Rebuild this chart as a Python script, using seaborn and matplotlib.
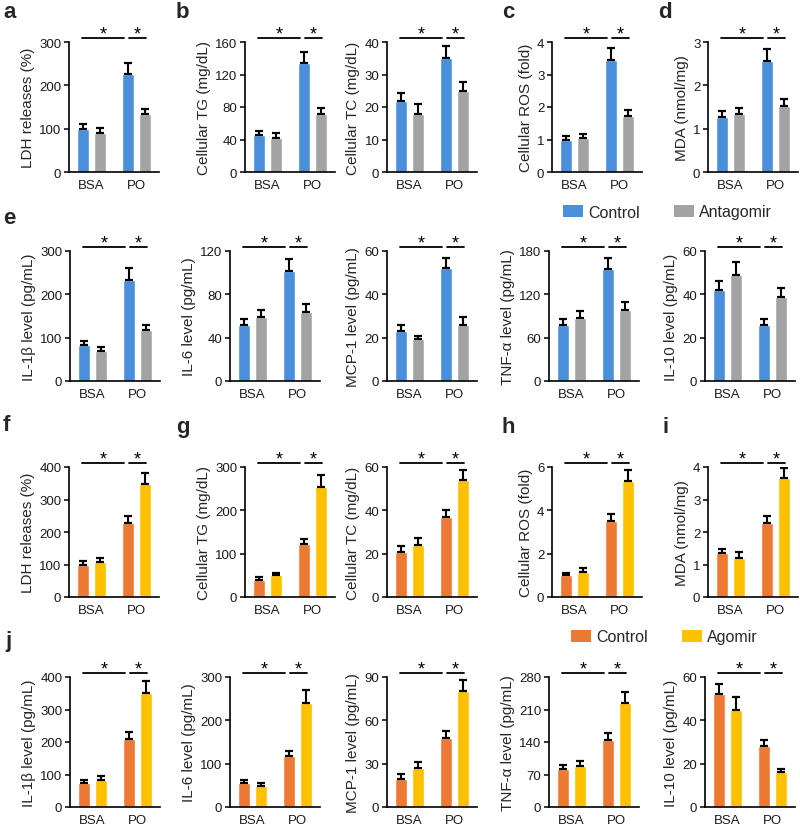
import numpy as np
import pandas as pd
import matplotlib
matplotlib.use("Agg")
import matplotlib.pyplot as plt
import matplotlib.transforms as mtransforms
from matplotlib.patches import Patch
import seaborn as sns

sns.set_theme(style="ticks")
plt.rcParams["font.family"] = ["Liberation Sans", "DejaVu Sans"]

conditions = ["BSA", "PO"]
top_treatments = ["Control", "Antagomir"]
bottom_treatments = ["Control", "Agomir"]
top_colors = ["#4a8fdb", "#a3a3a3"]
bottom_colors = ["#ec7a35", "#ffc000"]

# values per panel, order: Control-BSA, Treat-BSA, Control-PO, Treat-PO
a_ldh = [100, 90, 227, 133]
a_ldh_err = [10, 12, 25, 12]
b_tg = [46, 42, 134, 72]
b_tg_err = [5, 6, 14, 7]
b_tc = [22, 18, 35, 25]
b_tc_err = [2.3, 2.8, 3.9, 2.8]
c_ros = [1.0, 1.05, 3.45, 1.72]
c_ros_err = [0.1, 0.12, 0.36, 0.2]
d_mda = [1.27, 1.33, 2.57, 1.52]
d_mda_err = [0.14, 0.15, 0.27, 0.17]

e_il1b = [82, 70, 234, 117]
e_il1b_err = [10, 9, 26, 13]
e_il6 = [52, 59, 102, 64]
e_il6_err = [5, 7, 11, 7]
e_mcp1 = [23, 19.4, 52, 26]
e_mcp1_err = [2.7, 1.5, 4.6, 3.5]
e_tnf = [77, 87, 155, 99]
e_tnf_err = [9.5, 10.5, 16, 11]
e_il10 = [42, 49, 26, 39]
e_il10_err = [4.3, 5.8, 2.7, 3.8]

f_ldh = [100, 107, 228, 349]
f_ldh_err = [10, 12, 22, 34]
g_tg = [39, 50, 122, 254]
g_tg_err = [7, 6, 11, 28]
g_tc = [21, 24, 37, 54]
g_tc_err = [2.6, 3.2, 3.3, 4.6]
h_ros = [1.0, 1.17, 3.5, 5.34]
h_ros_err = [0.12, 0.15, 0.33, 0.53]
i_mda = [1.34, 1.21, 2.28, 3.66]
i_mda_err = [0.15, 0.17, 0.22, 0.31]

j_il1b = [74, 84, 209, 352]
j_il1b_err = [10, 10, 21, 36]
j_il6 = [55, 48, 117, 241]
j_il6_err = [8, 7, 12, 28]
j_mcp1 = [19.6, 27.2, 47.8, 80]
j_mcp1_err = [3, 4, 4.6, 7.7]
j_tnf = [82, 89, 145, 224]
j_tnf_err = [8.5, 11, 15, 24]
j_il10 = [52, 44.6, 28, 16.2]
j_il10_err = [5, 6.2, 2.8, 1.5]


def draw_panel(ax, vals, errs, treatments, colors, ylabel, ymax, step):
    df = pd.DataFrame({
        "condition": np.repeat(conditions, 2),
        "treatment": treatments * 2,
        "value": vals,
        "err": errs,
    })
    sns.barplot(data=df, x="condition", y="value", hue="treatment",
                order=conditions, hue_order=treatments, palette=colors,
                width=0.75, gap=0.3, errorbar=None, saturation=1,
                legend=False, ax=ax)

    # one-sided error bars on top of the bars
    bars = sorted(ax.patches, key=lambda p: p.get_x())
    xs = [p.get_x() + p.get_width() / 2 for p in bars]
    hs = [p.get_height() for p in bars]
    ax.errorbar(xs, hs, yerr=[np.zeros(4), df["err"].values], fmt="none",
                ecolor="black", elinewidth=1.5, capsize=2.6, capthick=1.6,
                zorder=3)

    # significance brackets
    trans = mtransforms.blended_transform_factory(ax.transData, ax.transAxes)
    for x0, x1 in [(xs[0] - 0.02, xs[2] - 0.1), (xs[2] + 0.02, xs[3] + 0.02)]:
        ax.plot([x0, x1], [1.03, 1.03], color="black", lw=1.3,
                transform=trans, clip_on=False)
        ax.text((x0 + x1) / 2, 0.995, "*", transform=trans, ha="center",
                va="bottom", fontsize=13, color="black")

    ax.set_xlim(-0.5, 1.5)
    ax.set_ylim(0, ymax)
    ax.set_yticks(np.arange(0, ymax + step / 2, step))
    ax.set_xlabel("")
    ax.set_ylabel(ylabel, fontsize=11, labelpad=3)
    ax.tick_params(axis="y", length=3.5, width=1.1, labelsize=9.5, pad=2,
                   color="black", labelcolor="#1a1a1a")
    ax.tick_params(axis="x", length=0, labelsize=9.5, pad=5, labelcolor="#1a1a1a")
    sns.despine(ax=ax)
    for s in ["left", "bottom"]:
        ax.spines[s].set_linewidth(1.2)
        ax.spines[s].set_color("black")


fig = plt.figure(figsize=(8, 8.29), dpi=100)
W, H = 800, 829


def add_ax(x, y_top, w=90, h=130):
    return fig.add_axes([x / W, 1 - (y_top + h) / H, w / W, h / H])


row_top = [
    (a_ldh, a_ldh_err, "LDH releases (%)", 300, 100),
    (b_tg, b_tg_err, "Cellular TG (mg/dL)", 160, 40),
    (b_tc, b_tc_err, "Cellular TC (mg/dL)", 40, 10),
    (c_ros, c_ros_err, "Cellular ROS (fold)", 4, 1),
    (d_mda, d_mda_err, "MDA (nmol/mg)", 3, 1),
]
row_e = [
    (e_il1b, e_il1b_err, "IL-1β level (pg/mL)", 300, 100),
    (e_il6, e_il6_err, "IL-6 level (pg/mL)", 120, 40),
    (e_mcp1, e_mcp1_err, "MCP-1 level (pg/mL)", 60, 20),
    (e_tnf, e_tnf_err, "TNF-α level (pg/mL)", 180, 60),
    (e_il10, e_il10_err, "IL-10 level (pg/mL)", 60, 20),
]
row_f = [
    (f_ldh, f_ldh_err, "LDH releases (%)", 400, 100),
    (g_tg, g_tg_err, "Cellular TG (mg/dL)", 300, 100),
    (g_tc, g_tc_err, "Cellular TC (mg/dL)", 60, 20),
    (h_ros, h_ros_err, "Cellular ROS (fold)", 6, 2),
    (i_mda, i_mda_err, "MDA (nmol/mg)", 4, 1),
]
row_j = [
    (j_il1b, j_il1b_err, "IL-1β level (pg/mL)", 400, 100),
    (j_il6, j_il6_err, "IL-6 level (pg/mL)", 300, 100),
    (j_mcp1, j_mcp1_err, "MCP-1 level (pg/mL)", 90, 30),
    (j_tnf, j_tnf_err, "TNF-α level (pg/mL)", 280, 70),
    (j_il10, j_il10_err, "IL-10 level (pg/mL)", 60, 20),
]

x_abcd = [69, 245, 387, 552, 708]
x_e = [70, 230, 387, 549, 705]

layout = [
    (row_top, x_abcd, 43, top_treatments, top_colors),
    (row_e, x_e, 252, top_treatments, top_colors),
    (row_f, x_abcd, 468, bottom_treatments, bottom_colors),
    (row_j, x_e, 678, bottom_treatments, bottom_colors),
]

for panels, xpos, ytop, treatments, colors in layout:
    for (vals, errs, ylabel, ymax, step), x in zip(panels, xpos):
        ax = add_ax(x, ytop)
        draw_panel(ax, vals, errs, treatments, colors, ylabel, ymax, step)

# panel letters
letters = [("a", 3, 12), ("b", 176, 12), ("c", 502, 12), ("d", 658, 12),
           ("e", 3, 218), ("f", 3, 426), ("g", 176, 428), ("h", 502, 428),
           ("i", 663, 428), ("j", 5, 641)]
for lab, x, y in letters:
    fig.text(x / W, 1 - y / H, lab, fontsize=16, fontweight="bold",
             ha="left", va="center")

# legends
for (treatments, colors, x, y) in [(top_treatments, top_colors, 563, 213),
                                   (bottom_treatments, bottom_colors, 571, 638)]:
    handles = [Patch(facecolor=c, edgecolor="none") for c in colors]
    fig.legend(handles, treatments, loc="center left",
               bbox_to_anchor=(x / W, 1 - y / H), ncol=2, frameon=False,
               fontsize=11.5, handlelength=1.25, handleheight=0.75,
               handletextpad=0.35, columnspacing=2.1, borderpad=0,
               borderaxespad=0)

fig.savefig("out.png", dpi=100)
